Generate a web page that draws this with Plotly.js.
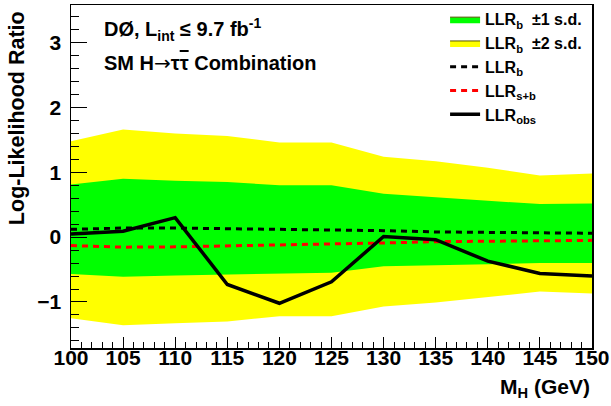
<!DOCTYPE html>
<html><head><meta charset="utf-8">
<script src="https://cdn.plot.ly/plotly-3.0.1.min.js"></script>
<style>html,body{margin:0;padding:0;background:#fff;} #chart{width:611px;height:406px;}</style>
</head><body><div id="chart"></div>
<script>
// Higgs mass points (GeV)
const masses  = [100, 105, 110, 115, 120, 125, 130, 135, 140, 145, 150];
// Observed LLR
const llrObs  = [0.05, 0.09, 0.30, -0.73, -1.02, -0.69, 0.01, -0.04, -0.37, -0.56, -0.60];
// Expected background-only LLR
const llrB    = [0.12, 0.14, 0.14, 0.13, 0.12, 0.115, 0.10, 0.08, 0.07, 0.06, 0.06];
// Expected signal+background LLR
const llrSB   = [-0.13, -0.155, -0.15, -0.135, -0.12, -0.115, -0.09, -0.07, -0.06, -0.05, -0.05];
// +-1 s.d. band
const sig1Up  = [0.81, 0.90, 0.87, 0.85, 0.80, 0.80, 0.67, 0.61, 0.56, 0.51, 0.52];
const sig1Dn  = [-0.57, -0.61, -0.59, -0.58, -0.56, -0.55, -0.45, -0.435, -0.42, -0.40, -0.40];
// +-2 s.d. band
const sig2Up  = [1.48, 1.66, 1.60, 1.56, 1.46, 1.46, 1.24, 1.17, 1.07, 0.95, 0.98];
const sig2Dn  = [-1.25, -1.36, -1.33, -1.30, -1.22, -1.22, -1.07, -1.01, -0.93, -0.84, -0.87];

const FONT = 'Liberation Sans, Arial, Helvetica, sans-serif';
const bandX = masses.concat(masses.slice().reverse());
function band(up, dn) { return up.concat(dn.slice().reverse()); }

const traces = [
  {x: bandX, y: band(sig2Up, sig2Dn), type: 'scatter', mode: 'lines', fill: 'toself',
   fillcolor: '#ffff00', line: {width: 0, color: '#ffff00'}, hoverinfo: 'skip', showlegend: false},
  {x: bandX, y: band(sig1Up, sig1Dn), type: 'scatter', mode: 'lines', fill: 'toself',
   fillcolor: '#00ff00', line: {width: 0, color: '#00ff00'}, hoverinfo: 'skip', showlegend: false},
  {x: masses, y: llrB, type: 'scatter', mode: 'lines', name: 'LLR<sub>b</sub>',
   line: {color: '#000000', width: 3, dash: '6px,5px'}, legendrank: 3, legendgroup: 'c'},
  {x: masses, y: llrSB, type: 'scatter', mode: 'lines', name: 'LLR<sub>s+b</sub>',
   line: {color: '#ff0000', width: 3, dash: '6px,5px'}, legendrank: 4, legendgroup: 'd'},
  {x: masses, y: llrObs, type: 'scatter', mode: 'lines', name: 'LLR<sub>obs</sub>',
   line: {color: '#000000', width: 3.5}, legendrank: 5, legendgroup: 'e'},
  {x: [null], y: [null], type: 'scatter', mode: 'lines', fill: 'toself', fillcolor: '#00ff00',
   line: {color: '#555500', width: 1}, name: 'LLR<sub>b</sub>\u00a0\u00a0±1 s.d.', legendrank: 1, legendgroup: 'a'},
  {x: [null], y: [null], type: 'scatter', mode: 'lines', fill: 'toself', fillcolor: '#ffff00',
   line: {color: '#555500', width: 1}, name: 'LLR<sub>b</sub>\u00a0\u00a0±2 s.d.', legendrank: 2, legendgroup: 'b'}
];

const axisCommon = {
  showgrid: false, zeroline: false, showline: true, mirror: true,
  linecolor: '#000', linewidth: 1.5, ticks: 'inside', tickcolor: '#000', tickwidth: 1,
  tickfont: {family: FONT, size: 21, color: '#000', weight: 700}
};

const layout = {
  width: 611, height: 406,
  margin: {l: 71, r: 19, t: 2, b: 58},
  paper_bgcolor: '#fff', plot_bgcolor: '#fff',
  showlegend: true,
  legend: {x: 0.718, y: 1.008, xanchor: 'left', yanchor: 'top', bgcolor: 'rgba(0,0,0,0)',
           font: {family: FONT, size: 16, color: '#000', weight: 700}, tracegroupgap: 0,
           itemwidth: 30},
  xaxis: Object.assign({}, axisCommon, {
    range: [100, 150], tick0: 100, dtick: 5, ticklen: 11, ticklabelstandoff: -10,
    minor: {dtick: 1, ticklen: 6, ticks: 'inside', tickcolor: '#000', tickwidth: 1}
  }),
  yaxis: Object.assign({}, axisCommon, {
    range: [-1.71, 3.58], tick0: 0, dtick: 1, ticklen: 16, ticklabelstandoff: 4,
    minor: {dtick: 0.2, ticklen: 8, ticks: 'inside', tickcolor: '#000', tickwidth: 1}
  }),
  annotations: [
    {xref: 'paper', yref: 'paper', x: 0.0595, y: 0.93, xanchor: 'left', yanchor: 'middle', showarrow: false,
     text: 'DØ, L<sub>int</sub> ≤ 9.7 fb<sup>-1</sup>', font: {family: FONT, size: 20, color: '#000', weight: 700}},
    {xref: 'paper', yref: 'paper', x: 0.0595, y: 0.832, xanchor: 'left', yanchor: 'middle', showarrow: false,
     text: 'SM H<span style="font-family:DejaVu Sans;font-weight:normal">→</span>τ<span style="text-decoration:overline">τ</span> Combination', font: {family: FONT, size: 20, color: '#000', weight: 700}},
    {xref: 'paper', yref: 'paper', x: 1, y: -0.118, xanchor: 'right', yanchor: 'middle', showarrow: false,
     text: 'M<sub>H</sub> (GeV)', font: {family: FONT, size: 21, color: '#000', weight: 700}},
    {xref: 'paper', yref: 'paper', x: -0.1036, y: 0.988, xanchor: 'center', yanchor: 'top', showarrow: false,
     textangle: -90, text: 'Log-Likelihood Ratio', font: {family: FONT, size: 21.5, color: '#000', weight: 700}}
  ]
};

Plotly.newPlot('chart', traces, layout, {displayModeBar: false, staticPlot: true});
</script>
</body></html>
